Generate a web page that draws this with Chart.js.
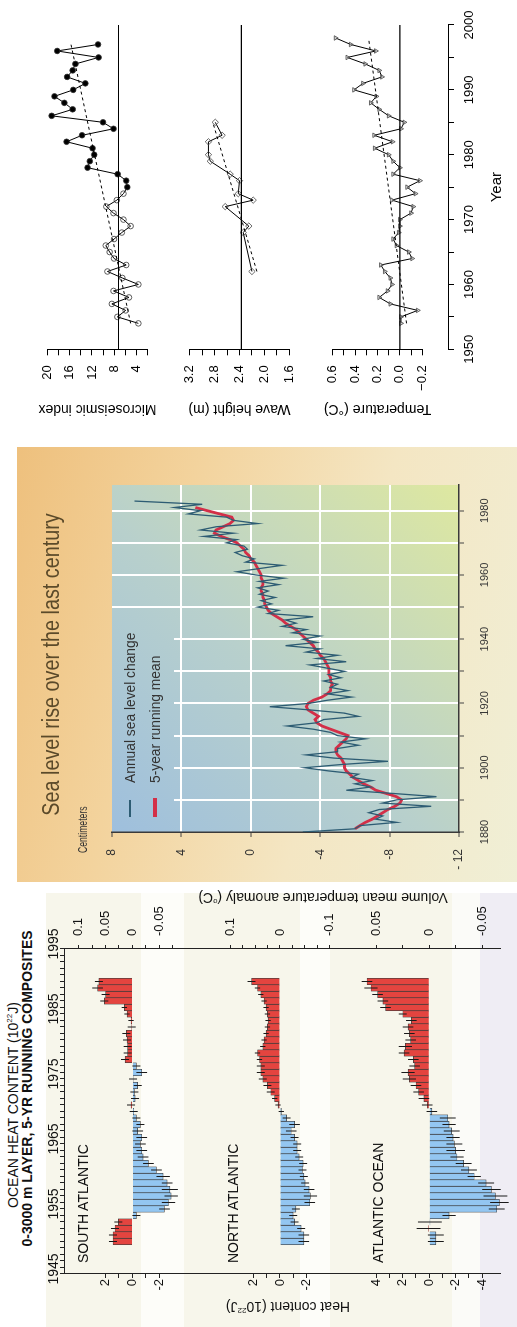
<!DOCTYPE html>
<html>
<head>
<meta charset="utf-8">
<title>Storms, sea level and ocean heat</title>
<script src="https://cdn.jsdelivr.net/npm/chart.js@4.4.1/dist/chart.umd.min.js"></script>
<style>
  html, body { margin: 0; padding: 0; width: 517px; height: 1327px; overflow: hidden; background: #fff; }
  /* the whole figure is laid out upright and then turned a quarter turn */
  #fig { position: absolute; left: 0; top: 0; width: 1327px; height: 517px;
         transform-origin: 0 0; transform: translate(0, 1327px) rotate(-90deg);
         font-family: 'Liberation Sans', Arial, sans-serif; color: #111; }
  #fig div, #fig canvas { position: absolute; }
  #fig sup { font-size: 8px; line-height: 0; }
  .rot { white-space: nowrap; transform: translate(-50%, -50%) rotate(-90deg); }
  .cond { white-space: nowrap; transform-origin: 0 50%; }
</style>
</head>
<body>
<div id="fig">
  <!-- ocean heat content -->
  <div style="left:0;top:46px;width:434px;height:471px;background:#f7f6eb"></div>
  <div style="left:0;top:141px;width:434px;height:43px;background:#fdfdf9"></div>
  <div style="left:0;top:300px;width:434px;height:30px;background:#fdfdf9"></div>
  <div style="left:0;top:452px;width:434px;height:28px;background:#fbfbf8"></div>
  <div style="left:0;top:480px;width:434px;height:37px;background:#efedf4"></div>
  <div style="left:0;top:5px;width:444px;text-align:center;font-size:14px;line-height:16px">OCEAN HEAT CONTENT (10<sup>22</sup>J)</div>
  <div style="left:0;top:19px;width:477px;text-align:center;font-size:14px;line-height:16px;font-weight:bold">0-3000 m LAYER, 5-YR RUNNING COMPOSITES</div>
  <canvas id="cHeat" style="left:0;top:40px" width="434" height="477"></canvas>
  <div style="left:64px;top:75px;font-size:14px;line-height:16px">SOUTH ATLANTIC</div>
  <div style="left:64px;top:225px;font-size:14px;line-height:16px">NORTH ATLANTIC</div>
  <div style="left:64px;top:370px;font-size:14px;line-height:16px">ATLANTIC OCEAN</div>
  <div class="rot" style="left:20px;top:288px;font-size:14px">Heat content (10<sup>22</sup>J)</div>
  <div class="rot" style="left:429px;top:323px;font-size:14px">Volume mean temperature anomaly (<sup>o</sup>C)</div>

  <!-- sea level -->
  <div style="left:445px;top:17px;width:435px;height:500px;background:linear-gradient(195deg,#eec07d 0%,#f3d39d 30%,#f4e6c3 62%,#f0efd6 100%)"></div>
  <div style="left:445px;top:37px;width:435px;text-align:center;font-size:23px;line-height:28px;color:#5b4a2a;transform:scaleX(0.86)">Sea level rise over the last century</div>
  <div class="cond" style="left:474px;top:76px;font-size:12px;line-height:14px;color:#333;transform:scaleX(0.72)">Centimeters</div>
  <canvas id="cSea" style="left:445px;top:17px" width="435" height="500"></canvas>
  <div style="left:510px;top:129px;width:17px;height:2px;background:#2d5c73"></div>
  <div style="left:510px;top:153px;width:19px;height:4px;background:#d32f48"></div>
  <div class="cond" style="left:544px;top:121px;font-size:15px;line-height:18px;color:#333;transform:scaleX(0.92)">Annual sea level change</div>
  <div class="cond" style="left:544px;top:146px;font-size:15px;line-height:18px;color:#333;transform:scaleX(0.92)">5-year running mean</div>

  <!-- microseismic, waves, temperature -->
  <canvas id="cMs" style="left:900px;top:30px" width="427" height="135"></canvas>
  <canvas id="cWave" style="left:900px;top:172px" width="427" height="135"></canvas>
  <canvas id="cTemp" style="left:900px;top:315px" width="427" height="125"></canvas>
  <canvas id="cYear" style="left:900px;top:440px" width="427" height="77"></canvas>
</div>

<script>
Chart.defaults.font.family = "'Liberation Sans', Arial, sans-serif";

// microseismic index, 1954-1997 (filled dots from 1975)
var msStart = 1954;
var msValues = [3.6, 7.4, 5.9, 8.4, 5.3, 8.1, 3.6, 6.5, 9.2, 5.8,
                8.0, 8.8, 9.5, 8.0, 6.6, 5.0, 6.3, 8.1, 9.4, 7.5,
                6.3, 5.6, 5.8, 7.35, 12.8, 12.4, 11.6, 11.9, 16.6, 13.8,
                8.1, 10.0, 19.3, 15.5, 17.0, 18.8, 15.4, 13.2, 16.5, 15.5,
                15.0, 10.8, 18.3, 10.9];
var msFilledFrom = 1975;
var msRef = 7.2;
var msTrendYears = [1954, 1997];
var msTrendValues = [5.0, 15.8];
var msTicks = [20, 18, 16, 14, 12, 10, 8, 6, 4, 2];
var msLabels = [20, 16, 12, 8, 4];

// wave height (m)
var waveYears = [1962, 1968, 1969, 1972, 1973, 1974, 1976, 1977, 1979, 1980, 1982, 1983, 1985];
var waveValues = [2.20, 2.34, 2.25, 2.63, 2.18, 2.42, 2.40, 2.55, 2.87, 2.90, 2.90, 2.68, 2.79];
var waveRef = 2.37;
var waveTrendYears = [1962, 1985];
var waveTrendValues = [2.12, 2.83];
var waveTicks = [3.2, 3.0, 2.8, 2.6, 2.4, 2.2, 2.0, 1.8, 1.6];
var waveLabels = [3.2, 2.8, 2.4, 2.0, 1.6];

// temperature (C), 1954-1998
var tempStart = 1954;
var tempValues = [-0.01, -0.01, -0.16, 0.085, 0.185, 0.11, 0.07, 0.085, 0.135, 0.17,
                  -0.11, -0.08, 0.03, 0.06, 0.01, 0.0, 0.0, -0.10, -0.12, 0.07,
                  -0.14, -0.065, -0.18, 0.06, 0.0, 0.06, 0.10, 0.225, 0.065, 0.23,
                  -0.01, -0.04, 0.10, 0.185, 0.26, 0.21, 0.41, 0.33, 0.16, 0.185,
                  0.31, 0.47, 0.215, 0.44, 0.575];
var tempRef = 0;
var tempTrendYears = [1954, 1998];
var tempTrendValues = [-0.06, 0.28];
var tempTicks = [0.6, 0.5, 0.4, 0.3, 0.2, 0.1, 0, -0.1, -0.2];
var tempLabels = [0.6, 0.4, 0.2, 0, -0.2];

var yearTicks = [1950, 1955, 1960, 1965, 1970, 1975, 1980, 1985, 1990, 1995, 2000];
var yearLabels = [1950, 1960, 1970, 1980, 1990, 2000];

// sea level (cm), annual 1880-1983 and 5-year running mean 1881-1981
var slStart = 1880;
var slAnnual = [-3.0, -6.0, -6.3, -8.4, -7.2, -7.6, -6.8, -7.4, -10.4, -7.6,
                -8.4, -10.7, -8.2, -5.5, -6.9, -6.0, -7.0, -5.8, -6.2, -4.5,
                -3.1, -5.2, -7.9, -4.8, -3.2, -5.0, -5.0, -6.2, -5.2, -6.6,
                -5.0, -4.6, -3.6, -2.1, -3.8, -4.2, -6.2, -5.4, -3.4, -1.1,
                -3.3, -4.4, -5.8, -4.4, -5.6, -4.6, -5.0, -4.2, -5.2, -4.5,
                -5.4, -4.4, -3.4, -5.5, -3.8, -5.0, -3.2, -4.0, -2.0, -3.8,
                -3.0, -4.0, -2.4, -3.2, -1.8, -2.6, -2.0, -3.6, -1.0, -1.6,
                -0.4, -1.2, -0.6, -1.4, -0.5, -1.0, -0.4, -1.6, -0.5, -1.9,
                -0.3, 0.8, -0.5, -1.8, 0.3, -0.2, 0.5, 0.9, 0.2, 0.4,
                1.4, 0.8, 2.7, 1.0, 2.9, 2.0, -0.4, 1.0, 1.4, 3.6,
                2.9, 4.4, 2.8, 6.7];
var slMeanStart = 1881;
var slMean = [-6.0, -6.3, -6.6, -7.0, -7.3, -7.6, -7.9, -8.3, -8.6, -8.7,
              -8.4, -7.8, -7.2, -6.9, -6.5, -6.2, -5.9, -5.7, -5.5, -5.4,
              -5.4, -5.3, -5.2, -5.0, -4.9, -4.9, -5.1, -5.3, -5.5, -5.6,
              -5.1, -4.6, -4.1, -3.8, -3.7, -3.9, -3.6, -3.3, -3.2, -3.3,
              -3.6, -4.1, -4.4, -4.6, -4.6, -4.7, -4.6, -4.6, -4.5, -4.5,
              -4.5, -4.4, -4.3, -4.2, -4.0, -3.9, -3.7, -3.6, -3.4, -3.2,
              -3.0, -2.8, -2.6, -2.3, -2.0, -1.8, -1.5, -1.2, -1.0, -0.9,
              -0.8, -0.8, -0.7, -0.7, -0.6, -0.6, -0.7, -0.7, -0.6, -0.6,
              -0.5, -0.4, -0.3, -0.2, 0.0, 0.1, 0.3, 0.4, 0.6, 0.8,
              1.2, 1.7, 2.1, 2.0, 1.6, 1.2, 1.0, 1.1, 1.8, 2.5,
              3.2];
var seaDecades = [1880, 1890, 1900, 1910, 1920, 1930, 1940, 1950, 1960, 1970, 1980];
var seaYearLabels = [1880, 1900, 1920, 1940, 1960, 1980];
var seaTicks = [-12, -8, -4, 0, 4, 8];
var seaTickText = ['- 12', '-8', '-4', '0', '4', '8'];

// heat content (10^22 J), 5-yr running composites 1950-1990
var hcStart = 1950;
var southHC = [1.45, 1.45, 1.3, 1.05, -0.3, -2.4, -2.7, -2.9, -2.8, -2.6,
               -2.3, -1.8, -1.2, -0.8, -0.7, -0.6, -0.7, -0.4, -0.6, -0.3,
               -0.1, 0.1, -0.2, -0.15, -0.4, -0.05, -0.7, -0.3, 0.55, 0.35,
               0.35, 0.4, 0.45, 0.05, 0.1, 0.4, 0.6, 2.1, 2.0, 2.6, 2.5];
var southErr = [0.3, 0.3, 0.3, 0.3, 0.3, 0.4, 0.5, 0.5, 0.6, 0.4,
                0.5, 0.4, 0.4, 0.4, 0.4, 0.4, 0.4, 0.4, 0.3, 0.3,
                0.3, 0.3, 0.3, 0.3, 0.3, 0.3, 0.4, 0.3, 0.3, 0.3,
                0.3, 0.3, 0.3, 0.3, 0.2, 0.2, 0.2, 0.3, 0.3, 0.4, 0.3];
var northHC = [-1.8, -1.8, -1.6, -1.1, -1.0, -1.2, -2.25, -2.3, -2.2, -1.9,
               -1.8, -1.7, -1.75, -1.45, -1.3, -1.3, -1.1, -0.85, -1.1, -0.5,
               -0.1, 0.15, 0.4, 0.7, 0.95, 1.3, 1.45, 1.45, 1.55, 1.7,
               1.3, 1.2, 1.05, 0.95, 0.9, 0.95, 1.05, 1.2, 1.45, 1.7, 2.15];
var northErr = [0.4, 0.4, 0.3, 0.3, 0.3, 0.3, 0.4, 0.5, 0.4, 0.3,
                0.3, 0.3, 0.3, 0.3, 0.3, 0.3, 0.3, 0.4, 0.4, 0.3,
                0.2, 0.2, 0.2, 0.3, 0.3, 0.3, 0.3, 0.3, 0.2, 0.2,
                0.2, 0.2, 0.2, 0.2, 0.2, 0.2, 0.2, 0.2, 0.2, 0.2, 0.3];
var atlHC = [-0.5, -0.5, 0.05, -0.05, -1.5, -5.1, -5.3, -5.0, -4.7, -4.3,
             -3.4, -3.0, -2.6, -2.1, -2.0, -1.9, -1.8, -1.7, -1.5, -1.4,
             -0.2, 0.15, 0.4, 0.8, 1.0, 1.5, 1.6, 1.1, 1.2, 1.9,
             1.8, 1.4, 1.5, 1.6, 1.35, 2.0, 3.3, 3.5, 3.9, 4.4, 4.7];
var atlErr = [0.6, 0.6, 0.9, 0.9, 0.5, 0.6, 0.7, 0.9, 0.7, 0.6,
              0.5, 0.6, 0.6, 0.5, 0.7, 0.6, 0.5, 0.6, 0.5, 0.6,
              0.4, 0.4, 0.4, 0.4, 0.4, 0.5, 0.5, 0.4, 0.4, 0.4,
              0.5, 0.4, 0.4, 0.4, 0.4, 0.3, 0.4, 0.4, 0.4, 0.5, 0.4];
// axis ranges of the three strips and heat -> degrees factor of each
var southRange = [-5.54, 5.11];
var northRange = [-5.65, 5.55];
var atlRange = [-5.36, 5.62];
var southPerDeg = 0.025, northPerDeg = 0.1 / 3.75, atlPerDeg = 0.0125;
var southTicks = [2, 1, 0, -1, -2], southLabels = [2, 0, -2];
var northTicks = [2, 1, 0, -1, -2], northLabels = [2, 0, -2];
var atlTicks = [4, 3, 2, 1, 0, -1, -2, -3, -4], atlLabels = [4, 2, 0, -2, -4];
var southDegTicks = [0.1, 0.075, 0.05, 0.025, 0, -0.025, -0.05, -0.075], southDegLabels = [0.1, 0.05, 0, -0.05];
var northDegTicks = [0.1, 0.075, 0.05, 0.025, 0, -0.025, -0.05, -0.075, -0.1], northDegLabels = [0.1, 0, -0.1];
var atlDegTicks = [0.05, 0.025, 0, -0.025, -0.05], atlDegLabels = [0.05, 0, -0.05];
var hcYearLabels = [1945, 1955, 1965, 1975, 1985, 1995];


function yearsFrom(start, n) {
    var out = [];
    for (var i = 0; i < n; i++) out.push(start + i);
    return out;
}

function pts(xs, ys) {
    return xs.map(function (x, i) { return { x: x, y: ys[i] }; });
}

function fixed(ticks) {
    return function (scale) {
        scale.ticks = ticks.map(function (v) { return { value: v }; });
    };
}

var baseOpts = { animation: false, responsive: false, devicePixelRatio: 1, events: [] };
var noPlugins = { legend: { display: false }, tooltip: { enabled: false } };

// ---------- storm / wave / temperature strips ----------
function stripAxis(title, min, max, ticks, labels, fmt) {
    return {
        type: 'linear', position: 'left', min: min, max: max,
        afterBuildTicks: fixed(ticks),
        afterFit: function (s) { s.width = 77.7; },
        ticks: { autoSkip: false, padding: 10, color: '#000', font: { size: 13 },
                 callback: function (v) { return labels.indexOf(v) >= 0 ? fmt(v) : ''; } },
        grid: { drawOnChartArea: false, tickLength: 6, tickColor: '#000' },
        border: { color: '#000', width: 1 },
        title: { display: true, text: title, color: '#000', font: { size: 14 }, padding: { top: 10, bottom: 0 } }
    };
}

function stripChart(id, yAxis, datasets, padBottom, padTop) {
    return new Chart(document.getElementById(id), {
        type: 'line',
        data: { datasets: datasets },
        options: Object.assign({}, baseOpts, {
            layout: { autoPadding: false, padding: { left: 0, right: 25, top: padTop, bottom: padBottom } },
            plugins: noPlugins,
            scales: { x: { type: 'linear', min: 1950, max: 2000, display: false }, y: yAxis }
        })
    });
}

function refLine(v) {
    return { data: pts([1950, 2000], [v, v]), borderColor: '#000', borderWidth: 1.2, pointRadius: 0 };
}
function trendLine(xs, ys) {
    return { data: pts(xs, ys), borderColor: '#000', borderWidth: 1, borderDash: [3, 3], pointRadius: 0 };
}

var msYears = yearsFrom(msStart, msValues.length);
stripChart('cMs', stripAxis('Microseismic index', 2, 20, msTicks, msLabels, String), [
    refLine(msRef),
    trendLine(msTrendYears, msTrendValues),
    { data: pts(msYears, msValues), borderColor: '#000', borderWidth: 1, clip: false,
      pointRadius: 2.8, pointBorderWidth: 0.8, pointBorderColor: '#333',
      pointBackgroundColor: function (c) { return msYears[c.dataIndex] >= msFilledFrom ? '#000' : 'rgba(255,255,255,0)'; } }
], 14.5, 11);

stripChart('cWave', stripAxis('Wave height (m)', 1.6, 3.2, waveTicks, waveLabels, function (v) { return v.toFixed(1); }), [
    refLine(waveRef),
    trendLine(waveTrendYears, waveTrendValues),
    { data: pts(waveYears, waveValues), borderColor: '#000', borderWidth: 1, clip: false,
      pointStyle: 'rectRot', pointRadius: 3.2, pointBorderWidth: 0.8, pointBorderColor: '#444',
      pointBackgroundColor: 'rgba(255,255,255,0)' }
], 14.3, 10.7);

stripChart('cTemp', stripAxis('Temperature (\u00B0C)', -0.2, 0.6, tempTicks, tempLabels,
    function (v) { return v.toFixed(1).replace('-', '\u2212'); }), [
    refLine(tempRef),
    trendLine(tempTrendYears, tempTrendValues),
    { data: pts(yearsFrom(tempStart, tempValues.length), tempValues), borderColor: '#000', borderWidth: 1, clip: false,
      pointStyle: 'triangle', pointRotation: 180, pointRadius: 2.6, pointBorderWidth: 0.8, pointBorderColor: '#444',
      pointBackgroundColor: 'rgba(200,200,200,0.5)' }
], 6.7, 11);

new Chart(document.getElementById('cYear'), {
    type: 'line',
    data: { datasets: [] },
    options: Object.assign({}, baseOpts, {
        layout: { autoPadding: false, padding: { left: 77.7, right: 25, top: 0, bottom: 0 } },
        plugins: noPlugins,
        scales: {
            x: { type: 'linear', position: 'bottom', min: 1950, max: 2000,
                 afterBuildTicks: fixed(yearTicks),
                 afterFit: function (s) { s.height = 69; },
                 ticks: { autoSkip: false, maxRotation: 0, padding: 8, color: '#000', font: { size: 13 },
                          callback: function (v) { return yearLabels.indexOf(v) >= 0 ? String(v) : ''; } },
                 grid: { drawOnChartArea: false, tickLength: 6, tickColor: '#000' },
                 border: { color: '#000', width: 1 },
                 title: { display: true, text: 'Year', color: '#000', font: { size: 15 }, padding: { top: 0, bottom: 11 } } },
            y: { display: false }
        }
    })
});

// ---------- sea level ----------
function seaGradient(ctx, a) {
    var g = ctx.createLinearGradient(a.left, a.top, a.right, a.bottom);
    g.addColorStop(0, '#9ebfdd');
    g.addColorStop(0.45, '#b8d0cc');
    g.addColorStop(1, '#dee8a0');
    return g;
}

var seaBackdrop = {
    id: 'seaBackdrop',
    beforeDraw: function (chart) {
        var ctx = chart.ctx, a = chart.chartArea;
        ctx.save();
        ctx.fillStyle = seaGradient(ctx, a);
        ctx.fillRect(a.left, a.top, a.width, a.height);
        ctx.restore();
    },
    // the legend sits on a plain patch, grid lines stop at its edge
    beforeDatasetsDraw: function (chart) {
        var ctx = chart.ctx, a = chart.chartArea;
        ctx.save();
        ctx.fillStyle = seaGradient(ctx, a);
        ctx.fillRect(a.left + 1, a.top, 193, 62);
        ctx.restore();
    }
};

new Chart(document.getElementById('cSea'), {
    type: 'line',
    data: { datasets: [
        { data: pts(yearsFrom(slStart, slAnnual.length), slAnnual), borderColor: '#2d5c73', borderWidth: 1.3, pointRadius: 0 },
        { data: pts(yearsFrom(slMeanStart, slMean.length), slMean), borderColor: '#d32f48', borderWidth: 2.8, pointRadius: 0 }
    ] },
    options: Object.assign({}, baseOpts, {
        layout: { autoPadding: false, padding: { left: 0, right: 38, top: 95, bottom: 0 } },
        plugins: noPlugins,
        scales: {
            x: { type: 'linear', min: 1880, max: 1988,
                 afterBuildTicks: fixed(seaDecades),
                 afterFit: function (s) { s.height = 58; },
                 ticks: { autoSkip: false, maxRotation: 0, padding: 14, color: '#333', font: { size: 11 },
                          callback: function (v) { return seaYearLabels.indexOf(v) >= 0 ? String(v) : ''; } },
                 grid: { color: function (c) { return c.tick && c.tick.value === 1880 ? 'rgba(0,0,0,0)' : '#fff'; },
                         lineWidth: 2, tickLength: 5, tickColor: '#444', tickWidth: 1 },
                 border: { color: '#3a3a3a', width: 1.5 } },
            y: { type: 'linear', min: -12, max: 8,
                 afterBuildTicks: fixed(seaTicks),
                 afterFit: function (s) { s.width = 50; },
                 ticks: { autoSkip: false, padding: 12, color: '#333', font: { size: 12 },
                          callback: function (v, i) { return seaTickText[i]; } },
                 grid: { color: function (c) { return c.tick && (c.tick.value === 8 || c.tick.value === -12) ? 'rgba(0,0,0,0)' : '#fff'; },
                         lineWidth: 2, tickLength: 5, tickColor: '#444', tickWidth: 1 },
                 border: { color: '#3a3a3a', width: 1.5 } }
        }
    }),
    plugins: [seaBackdrop]
});

// ---------- ocean heat content ----------
var errorBars = {
    id: 'errorBars',
    afterDatasetsDraw: function (chart) {
        var ctx = chart.ctx;
        chart.data.datasets.forEach(function (ds, i) {
            var meta = chart.getDatasetMeta(i);
            var ys = chart.scales[ds.yAxisID];
            ctx.save();
            ctx.strokeStyle = '#1a1a1a';
            ctx.lineWidth = 1;
            meta.data.forEach(function (bar, j) {
                var v = ds.data[j].y, e = ds.errors[j];
                ctx.beginPath();
                ctx.moveTo(bar.x, ys.getPixelForValue(v - e));
                ctx.lineTo(bar.x, ys.getPixelForValue(v + e));
                ctx.stroke();
            });
            ctx.restore();
        });
    }
};

var hcYears = yearsFrom(hcStart, southHC.length);

function hcBars(values, errors, axis) {
    return {
        type: 'bar', yAxisID: axis, grouped: false, barPercentage: 1, categoryPercentage: 1,
        data: pts(hcYears, values), errors: errors,
        backgroundColor: values.map(function (v) { return v >= 0 ? '#e4443f' : '#93c6f1'; }),
        borderColor: '#3a3a3a', borderWidth: 0.7
    };
}

function hcAxis(side, range, factor, ticks, labels, weight, stackWeight) {
    var left = side === 'left';
    return {
        type: 'linear', position: side, stack: 'hc' + side, stackWeight: stackWeight, weight: weight,
        min: range[0] * factor, max: range[1] * factor,
        afterBuildTicks: fixed(ticks),
        afterFit: function (s) { s.width = left ? 53 : 56; },
        ticks: { autoSkip: false, padding: left ? 1 : 9, color: '#111', font: { size: 13 },
                 callback: function (v) { return labels.indexOf(v) >= 0 ? String(v) : ''; } },
        grid: { drawOnChartArea: false, tickLength: 4, tickColor: '#222' },
        border: { color: '#222', width: 1 }
    };
}

new Chart(document.getElementById('cHeat'), {
    type: 'bar',
    data: { datasets: [
        hcBars(southHC, southErr, 'yS'),
        hcBars(northHC, northErr, 'yN'),
        hcBars(atlHC, atlErr, 'yA')
    ] },
    options: Object.assign({}, baseOpts, {
        layout: { autoPadding: false, padding: 0 },
        plugins: noPlugins,
        scales: {
            x: { type: 'linear', position: 'top', min: 1945, max: 1995, offset: false,
                 afterBuildTicks: fixed(yearsFrom(1945, 51)),
                 afterFit: function (s) { s.height = 24; },
                 ticks: { autoSkip: false, maxRotation: 0, padding: -2.4, labelOffset: 5, color: '#111', font: { size: 14 },
                          callback: function (v) { return hcYearLabels.indexOf(v) >= 0 ? String(v) : ''; } },
                 grid: { drawOnChartArea: false, offset: false, tickLength: 4, tickColor: '#222' },
                 border: { color: '#222', width: 1 } },
            yS: hcAxis('left', southRange, 1, southTicks, southLabels, 3, 148),
            yN: hcAxis('left', northRange, 1, northTicks, northLabels, 2, 154),
            yA: hcAxis('left', atlRange, 1, atlTicks, atlLabels, 1, 151),
            yS2: hcAxis('right', southRange, southPerDeg, southDegTicks, southDegLabels, 1, 148),
            yN2: hcAxis('right', northRange, northPerDeg, northDegTicks, northDegLabels, 2, 154),
            yA2: hcAxis('right', atlRange, atlPerDeg, atlDegTicks, atlDegLabels, 3, 151)
        }
    }),
    plugins: [errorBars]
});
</script>
</body>
</html>
